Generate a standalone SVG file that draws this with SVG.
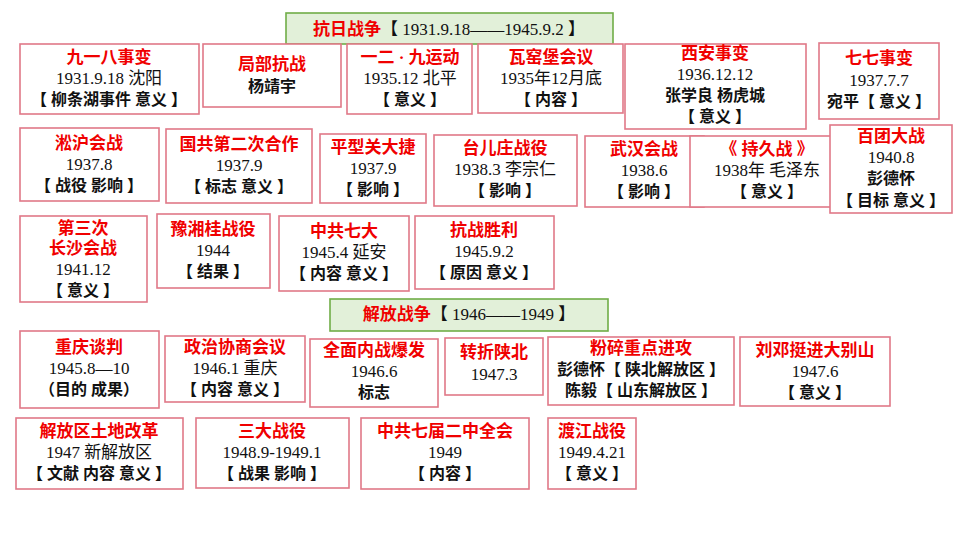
<svg xmlns="http://www.w3.org/2000/svg" width="960" height="540" viewBox="0 0 960 540">
<style>
.b{fill:#fff;stroke:#e07888;stroke-width:1.6}
.g{fill:#e2f0d9;stroke:#70ad47;stroke-width:1.6}
text{font-family:"Liberation Serif","Noto Sans CJK SC",serif;font-size:17px;text-anchor:middle;fill:#111}
.t{fill:#f00000;font-weight:bold;font-size:17px}
.k{font-weight:bold;font-size:16px}
.h{font-size:17px}
</style>
<rect width="960" height="540" fill="#fff"/>
<g id="title1"><rect class="g" x="286" y="13" width="327" height="31"/><text x="449" y="35" class="h"><tspan class="t">抗日战争</tspan>【 1931.9.18——1945.9.2 】</text></g>
<g id="n918"><rect class="b" x="20" y="44" width="179" height="70"/><text x="109" y="63" class="t">九一八事变</text><text x="109" y="84">1931.9.18  沈阳</text><text x="109" y="105" class="k">【 柳条湖事件 意义 】</text></g>
<g id="jubu"><rect class="b" x="203" y="44" width="138" height="63"/><text x="272" y="70" class="t">局部抗战</text><text x="272" y="92" class="k">杨靖宇</text></g>
<g id="n129"><rect class="b" x="347" y="44" width="125" height="70"/><text x="410" y="63" class="t">一二 · 九运动</text><text x="410" y="84">1935.12 北平</text><text x="410" y="105" class="k">【  意义 】</text></g>
<g id="wyb"><rect class="b" x="478" y="44" width="145" height="69"/><text x="551" y="63" class="t">瓦窑堡会议</text><text x="551" y="84">1935年12月底</text><text x="551" y="105" class="k">【  内容 】</text></g>
<g id="xian"><rect class="b" x="625" y="44" width="181" height="85"/><text x="715" y="59" class="t">西安事变</text><text x="715" y="80">1936.12.12</text><text x="715" y="101" class="k">张学良 杨虎城</text><text x="715" y="122" class="k">【 意义 】</text></g>
<g id="n77"><rect class="b" x="819" y="43" width="120" height="76"/><text x="879" y="64" class="t">七七事变</text><text x="879" y="86">1937.7.7</text><text x="879" y="107" class="k">宛平【 意义 】</text></g>
<g id="songhu"><rect class="b" x="20" y="128" width="139" height="73"/><text x="89" y="149" class="t">淞沪会战</text><text x="89" y="170">1937.8</text><text x="89" y="191" class="k">【  战役 影响 】</text></g>
<g id="gonghe"><rect class="b" x="166" y="129" width="146" height="74"/><text x="239" y="150" class="t">国共第二次合作</text><text x="239" y="171">1937.9</text><text x="239" y="192" class="k">【 标志  意义 】</text></g>
<g id="pxg"><rect class="b" x="320" y="134" width="106" height="69"/><text x="373" y="153" class="t">平型关大捷</text><text x="373" y="174">1937.9</text><text x="373" y="195" class="k">【  影响 】</text></g>
<g id="tez"><rect class="b" x="434" y="135" width="143" height="71"/><text x="505" y="154" class="t">台儿庄战役</text><text x="505" y="175">1938.3  李宗仁</text><text x="505" y="196" class="k">【 影响  】</text></g>
<g id="wuhan"><rect class="b" x="585" y="136" width="119" height="71"/><text x="644" y="155" class="t">武汉会战</text><text x="644" y="176">1938.6</text><text x="644" y="197" class="k">【 影响 】</text></g>
<g id="cjz"><rect class="b" x="690" y="136" width="154" height="71"/><text x="767" y="155" class="t">《 持久战 》</text><text x="767" y="176">1938年 毛泽东</text><text x="767" y="197" class="k">【  意义 】</text></g>
<g id="baituan"><rect class="b" x="830" y="125" width="122" height="88"/><text x="891" y="142" class="t">百团大战</text><text x="891" y="163">1940.8</text><text x="891" y="184" class="k">彭德怀</text><text x="891" y="206" class="k">【  目标 意义 】</text></g>
<g id="changsha"><rect class="b" x="20" y="216" width="127" height="86"/><text x="83" y="234" class="t">第三次</text><text x="83" y="254" class="t">长沙会战</text><text x="83" y="275">1941.12</text><text x="83" y="296" class="k">【  意义 】</text></g>
<g id="yxg"><rect class="b" x="157" y="214" width="113" height="74"/><text x="213" y="235" class="t">豫湘桂战役</text><text x="213" y="256">1944</text><text x="213" y="277" class="k">【 结果 】</text></g>
<g id="qida"><rect class="b" x="279" y="216" width="130" height="75"/><text x="344" y="237" class="t">中共七大</text><text x="344" y="258">1945.4  延安</text><text x="344" y="279" class="k">【 内容 意义 】</text></g>
<g id="shengli"><rect class="b" x="415" y="216" width="139" height="73"/><text x="484" y="236" class="t">抗战胜利</text><text x="484" y="257">1945.9.2</text><text x="484" y="278" class="k">【 原因 意义 】</text></g>
<g id="title2"><rect class="g" x="330" y="299" width="278" height="32"/><text x="469" y="320" class="h"><tspan class="t">解放战争</tspan>【 1946——1949 】</text></g>
<g id="cq"><rect class="b" x="20" y="331" width="139" height="77"/><text x="89" y="353" class="t">重庆谈判</text><text x="89" y="374">1945.8—10</text><text x="89" y="395" class="k">（目的 成果）</text></g>
<g id="zx"><rect class="b" x="165" y="336" width="140" height="66"/><text x="235" y="353" class="t">政治协商会议</text><text x="235" y="374">1946.1 重庆</text><text x="235" y="395" class="k">【 内容 意义 】</text></g>
<g id="nz"><rect class="b" x="310" y="339" width="128" height="68"/><text x="374" y="356" class="t">全面内战爆发</text><text x="374" y="377">1946.6</text><text x="374" y="398" class="k">标志</text></g>
<g id="sb"><rect class="b" x="445" y="338" width="98" height="57"/><text x="494" y="358" class="t">转折陕北</text><text x="494" y="380">1947.3</text></g>
<g id="fs"><rect class="b" x="548" y="337" width="186" height="68"/><text x="641" y="354" class="t">粉碎重点进攻</text><text x="641" y="375" class="k">彭德怀【 陕北解放区 】</text><text x="641" y="396" class="k">陈毅【 山东解放区 】</text></g>
<g id="ld"><rect class="b" x="740" y="337" width="150" height="69"/><text x="815" y="356" class="t">刘邓挺进大别山</text><text x="815" y="377">1947.6</text><text x="815" y="398" class="k">【 意义 】</text></g>
<g id="td"><rect class="b" x="16" y="418" width="167" height="71"/><text x="99" y="437" class="t">解放区土地改革</text><text x="99" y="458">1947  新解放区</text><text x="99" y="479" class="k">【  文献 内容 意义 】</text></g>
<g id="sd"><rect class="b" x="196" y="418" width="153" height="70"/><text x="272" y="437" class="t">三大战役</text><text x="272" y="458">1948.9-1949.1</text><text x="272" y="479" class="k">【  战果 影响 】</text></g>
<g id="ej"><rect class="b" x="361" y="418" width="168" height="71"/><text x="445" y="437" class="t">中共七届二中全会</text><text x="445" y="458">1949</text><text x="445" y="479" class="k">【 内容 】</text></g>
<g id="dj"><rect class="b" x="548" y="418" width="88" height="71"/><text x="592" y="437" class="t">渡江战役</text><text x="592" y="458">1949.4.21</text><text x="592" y="479" class="k">【 意义 】</text></g>
<g id="connectors"/>
</svg>
